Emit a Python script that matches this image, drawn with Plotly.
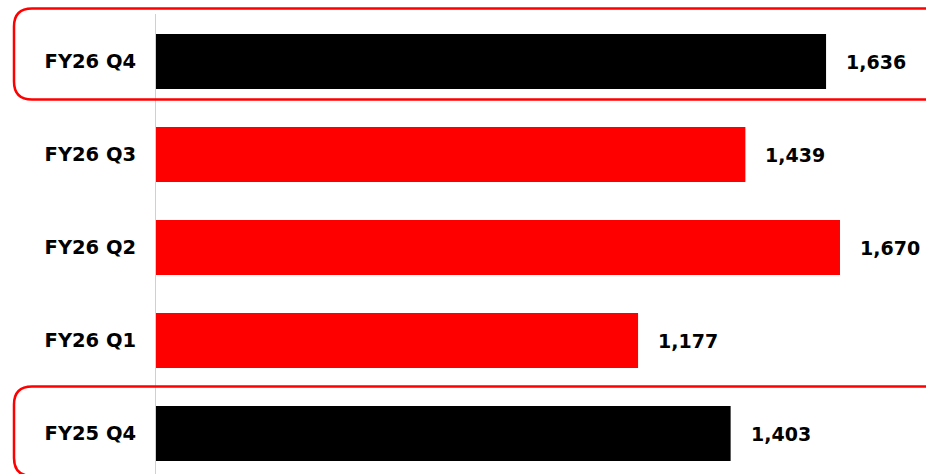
import plotly.graph_objects as go

categories = ["FY26 Q4", "FY26 Q3", "FY26 Q2", "FY26 Q1", "FY25 Q4"]
values = [1636, 1439, 1670, 1177, 1403]
bar_colors = ["#000000", "#ff0000", "#ff0000", "#ff0000", "#000000"]

W, H = 926, 474
ML, MR, MT, MB = 156, 0, 14, 0
FONT = "DejaVu Sans"

fig = go.Figure(go.Bar(
    y=categories, x=values, orientation="h",
    marker=dict(color=bar_colors, line=dict(width=0)),
    width=0.59, hoverinfo="skip",
))

for c, v in zip(categories, values):
    fig.add_annotation(x=v, y=c, text=f"<b>{v:,}</b>", showarrow=False,
                       xanchor="left", yanchor="middle", xshift=18,
                       font=dict(family=FONT, size=19, color="#000000"))

pw, ph = W - ML - MR, H - MT - MB

def px2paper(x, y):
    return (x - ML) / pw, 1 - (y - MT) / ph

def rounded_box(x0, y0, x1, y1, r):
    def P(x, y):
        a, b = px2paper(x, y)
        return f"{a:.5f},{b:.5f}"
    return (f"M {P(x0 + r, y0)} L {P(x1 - r, y0)} Q {P(x1, y0)} {P(x1, y0 + r)} "
            f"L {P(x1, y1 - r)} Q {P(x1, y1)} {P(x1 - r, y1)} L {P(x0 + r, y1)} "
            f"Q {P(x0, y1)} {P(x0, y1 - r)} L {P(x0, y0 + r)} Q {P(x0, y0)} {P(x0 + r, y0)} Z")

for (y0, y1) in [(8.5, 99.5), (386.5, 476)]:
    fig.add_shape(type="path", xref="paper", yref="paper",
                  path=rounded_box(14, y0, 960, y1, 18),
                  line=dict(color="#ff0000", width=2.5), layer="above")

fig.update_layout(
    width=W, height=H, margin=dict(l=ML, r=MR, t=MT, b=MB),
    paper_bgcolor="white", plot_bgcolor="white", showlegend=False,
    font=dict(family=FONT),
    xaxis=dict(range=[0, 1880], visible=False, showgrid=False, zeroline=False),
    yaxis=dict(range=[4.435, -0.511], showgrid=False, zeroline=False,
               showline=True, linecolor="#d0d0d0", linewidth=1,
               ticks="", ticklabelstandoff=15,
               tickfont=dict(family=FONT, size=19.5, color="#000000", weight="bold")),
)

fig.write_html("out.html", config={"displayModeBar": False},
               post_script="document.body.style.margin='0';document.body.style.overflow='hidden';")
